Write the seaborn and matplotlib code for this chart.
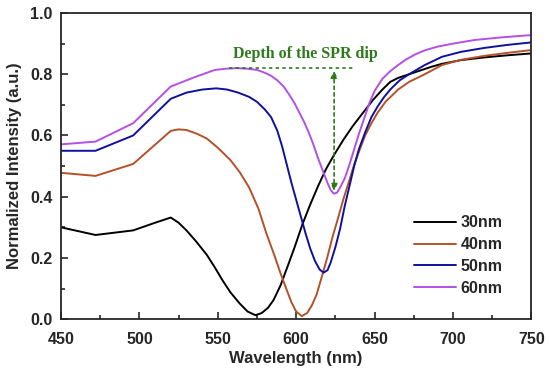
import numpy as np
import pandas as pd
import seaborn as sns
import matplotlib.pyplot as plt
from matplotlib.ticker import MultipleLocator

wl_30 = [450, 472, 496, 510, 520, 525, 530, 536, 543, 548, 553, 558, 564, 569, 574, 578, 582, 585.5, 590, 594, 599, 604, 609, 614, 619, 624, 630, 636, 642, 649, 655, 660, 665, 672, 679, 686, 693, 705, 720, 735, 750]
int_30 = [0.30, 0.275, 0.29, 0.315, 0.332, 0.315, 0.29, 0.255, 0.21, 0.17, 0.127, 0.088, 0.051, 0.025, 0.013, 0.02, 0.037, 0.062, 0.11, 0.165, 0.235, 0.31, 0.375, 0.435, 0.49, 0.535, 0.585, 0.63, 0.67, 0.716, 0.75, 0.775, 0.788, 0.80, 0.812, 0.824, 0.834, 0.846, 0.855, 0.862, 0.868]

wl_40 = [450, 472, 496, 520, 525, 530, 537, 543, 550, 558, 564, 570, 576, 581, 586, 590, 594, 597, 600, 603.6, 607, 610, 613, 617, 620, 623, 627, 630, 634, 637, 641, 644, 648, 652, 657, 660, 665, 672, 682, 693, 705, 720, 735, 750]
int_40 = [0.478, 0.468, 0.507, 0.615, 0.62, 0.618, 0.605, 0.59, 0.56, 0.52, 0.48, 0.43, 0.36, 0.28, 0.21, 0.15, 0.095, 0.055, 0.025, 0.01, 0.02, 0.045, 0.08, 0.15, 0.205, 0.265, 0.335, 0.39, 0.455, 0.505, 0.56, 0.60, 0.64, 0.675, 0.71, 0.725, 0.75, 0.775, 0.80, 0.83, 0.847, 0.86, 0.87, 0.879]

wl_50 = [450, 472, 496, 520, 530, 540, 549, 556, 563, 570, 575, 580, 584, 588, 591, 594, 597, 600, 603, 606, 609, 612, 615, 617.5, 620, 622, 625, 628, 631, 634, 637, 640, 644, 648, 652, 656, 660, 666, 672, 682, 693, 705, 720, 735, 750]
int_50 = [0.55, 0.55, 0.60, 0.72, 0.74, 0.75, 0.754, 0.75, 0.74, 0.726, 0.71, 0.685, 0.66, 0.615, 0.565, 0.505, 0.445, 0.39, 0.335, 0.28, 0.23, 0.19, 0.162, 0.152, 0.16, 0.185, 0.235, 0.295, 0.37, 0.435, 0.50, 0.555, 0.61, 0.66, 0.695, 0.725, 0.75, 0.78, 0.80, 0.83, 0.857, 0.873, 0.886, 0.896, 0.904]

wl_60 = [450, 472, 496, 520, 535, 548, 555, 562, 569, 575, 580, 584, 588, 592, 596, 599, 602, 605, 608, 611, 614, 617, 620, 622, 624, 626, 628, 631, 634, 637, 640, 644, 647, 650, 655, 660, 665, 670, 676, 682, 690, 700, 714, 730, 750]
int_60 = [0.571, 0.58, 0.64, 0.76, 0.79, 0.814, 0.818, 0.82, 0.818, 0.814, 0.805, 0.795, 0.78, 0.76, 0.73, 0.705, 0.675, 0.645, 0.61, 0.57, 0.525, 0.485, 0.445, 0.422, 0.41, 0.413, 0.43, 0.46, 0.505, 0.555, 0.605, 0.665, 0.71, 0.745, 0.785, 0.81, 0.83, 0.848, 0.865, 0.878, 0.89, 0.90, 0.912, 0.92, 0.928]

labels = ["30nm", "40nm", "50nm", "60nm"]
colors = ["#000000", "#b4512a", "#10109e", "#b450e6"]

frames = []
for lab, w, v in zip(labels, [wl_30, wl_40, wl_50, wl_60], [int_30, int_40, int_50, int_60]):
    frames.append(pd.DataFrame({"wl": w, "I": v, "thickness": lab}))
df = pd.concat(frames, ignore_index=True)

sns.set_style("ticks")
plt.rcParams["font.family"] = ["Liberation Sans", "DejaVu Sans"]

fig, ax = plt.subplots(figsize=(5.5, 3.72), dpi=100)
fig.subplots_adjust(left=0.111, right=0.966, top=0.965, bottom=0.142)

sns.lineplot(data=df, x="wl", y="I", hue="thickness", palette=colors,
             linewidth=1.4, ax=ax, estimator=None)

# dip depth annotation
ax.plot([557, 637], [0.82, 0.82], ls=(0, (2, 2)), color="#2e7a1a", lw=1.2)
ax.annotate("", xy=(624.2, 0.41), xytext=(624.2, 0.82),
            arrowprops=dict(arrowstyle="<|-|>", color="#2e7a1a", lw=1.2,
                            linestyle=(0, (2, 2)), mutation_scale=10))
ax.text(606, 0.866, "Depth of the SPR dip", color="#2e7a1a", ha="center", va="center",
        fontsize=11.5, fontweight="bold", family=["Liberation Serif"])

ax.set_xlim(450, 750)
ax.set_ylim(0, 1.0)
ax.xaxis.set_major_locator(MultipleLocator(50))
ax.xaxis.set_minor_locator(MultipleLocator(25))
ax.yaxis.set_major_locator(MultipleLocator(0.2))
ax.yaxis.set_minor_locator(MultipleLocator(0.1))
ax.yaxis.set_major_formatter(plt.FuncFormatter(lambda v, p: f"{v:.1f}"))
ax.tick_params(which="major", direction="in", length=5, width=1.2, labelsize=11.5)
ax.tick_params(axis="x", which="major", pad=9)
ax.tick_params(axis="y", which="major", pad=6)
ax.tick_params(which="minor", direction="in", length=3, width=1.2)
for t in ax.get_xticklabels() + ax.get_yticklabels():
    t.set_fontweight("bold")
for s in ax.spines.values():
    s.set_linewidth(1.3)
    s.set_visible(True)

ax.set_xlabel("Wavelength (nm)", fontsize=12, fontweight="bold", labelpad=3)
ax.set_ylabel("Normalized Intensity (a.u.)", fontsize=12, fontweight="bold", labelpad=6)

leg = ax.legend(loc="lower right", bbox_to_anchor=(0.97, 0.03), frameon=False,
                prop={"weight": "bold", "size": 11.5}, handlelength=2.6,
                handletextpad=0.3, labelspacing=0.42)

fig.savefig("out.png", dpi=100)
